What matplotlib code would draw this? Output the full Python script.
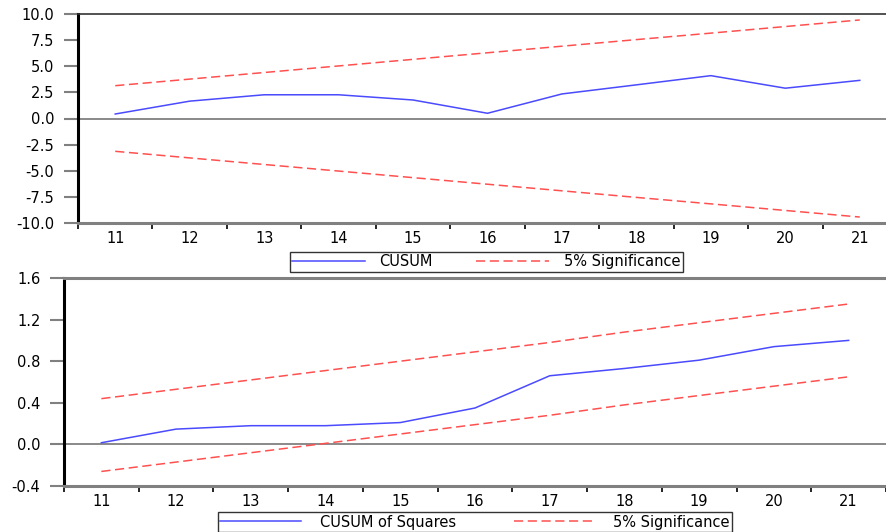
import matplotlib
matplotlib.use("Agg")
import matplotlib.pyplot as plt
from matplotlib.ticker import FixedLocator, NullFormatter, FixedFormatter

# ---- data ----
periods = ["11", "12", "13", "14", "15", "16", "17", "18", "19", "20", "21"]
cusum = [0.43, 1.66, 2.27, 2.27, 1.77, 0.50, 2.35, 3.22, 4.10, 2.90, 3.65]
cusum_upper = [3.14, 3.77, 4.40, 5.03, 5.66, 6.29, 6.92, 7.55, 8.17, 8.80, 9.43]
cusum_lower = [-3.14, -3.77, -4.40, -5.03, -5.66, -6.29, -6.92, -7.55, -8.17, -8.80, -9.43]
cusumsq = [0.016, 0.147, 0.18, 0.18, 0.21, 0.35, 0.66, 0.73, 0.81, 0.94, 1.00]
cusumsq_upper = [0.44, 0.53, 0.62, 0.71, 0.80, 0.89, 0.98, 1.08, 1.17, 1.26, 1.35]
cusumsq_lower = [-0.26, -0.17, -0.08, 0.01, 0.10, 0.19, 0.28, 0.38, 0.47, 0.56, 0.65]
top_yticks = [-10.0, -7.5, -5.0, -2.5, 0.0, 2.5, 5.0, 7.5, 10.0]
bot_yticks = [-0.4, 0.0, 0.4, 0.8, 1.2, 1.6]

BLUE = "#4a4aff"
RED = "#ff5050"
GREY = "#808080"
FONT = "DejaVu Sans"
FS = 10.5

plt.rcParams["font.family"] = [FONT]

W, H = 886, 532
fig = plt.figure(figsize=(W / 100, H / 100), dpi=100)
fig.patch.set_facecolor("white")

ax1 = fig.add_axes([78 / W, 1 - 223 / H, 819 / W, 209 / H])
ax2 = fig.add_axes([64 / W, 1 - 486 / H, 822 / W, 208 / H])


def style(ax, yticks, ylim, fmt, top_color, top_lw):
    x = list(range(len(periods)))
    ax.set_xlim(-0.5, len(periods) - 0.5)
    ax.set_ylim(*ylim)
    ax.axhline(0, color=GREY, lw=1.3, zorder=1)
    ax.xaxis.set_major_locator(FixedLocator([i - 0.5 for i in range(len(periods) + 1)]))
    ax.xaxis.set_major_formatter(NullFormatter())
    ax.xaxis.set_minor_locator(FixedLocator(x))
    ax.xaxis.set_minor_formatter(FixedFormatter(periods))
    ax.tick_params(axis="x", which="major", direction="out", length=4, width=1.2, color="black")
    ax.tick_params(axis="x", which="minor", length=0, pad=6, labelsize=FS)
    ax.set_yticks(yticks)
    ax.set_yticklabels([fmt.format(v) for v in yticks])
    ax.tick_params(axis="y", direction="out", length=10, width=1.5, color=GREY, pad=7, labelsize=FS)
    ax.spines["left"].set_color("black")
    ax.spines["left"].set_linewidth(2.2)
    ax.spines["bottom"].set_color(GREY)
    ax.spines["bottom"].set_linewidth(2.2)
    ax.spines["top"].set_color(top_color)
    ax.spines["top"].set_linewidth(top_lw)
    ax.spines["right"].set_visible(False)
    ax.set_facecolor("white")


x = list(range(len(periods)))

l1, = ax1.plot(x, cusum, color=BLUE, lw=1.1, label="CUSUM", zorder=3)
l2, = ax1.plot(x, cusum_upper, color=RED, lw=1.1, ls=(0, (6, 3)), label="5% Significance", zorder=2)
ax1.plot(x, cusum_lower, color=RED, lw=1.1, ls=(0, (6, 3)), zorder=2)
style(ax1, top_yticks, (-10, 10), "{:.1f}", "#333333", 1.2)

m1, = ax2.plot(x, cusumsq, color=BLUE, lw=1.1, label="CUSUM of Squares", zorder=3)
m2, = ax2.plot(x, cusumsq_upper, color=RED, lw=1.1, ls=(0, (6, 3)), label="5% Significance", zorder=2)
ax2.plot(x, cusumsq_lower, color=RED, lw=1.1, ls=(0, (6, 3)), zorder=2)
style(ax2, bot_yticks, (-0.4, 1.6), "{:.1f}", GREY, 2.2)

base_kw = dict(loc="center", ncol=2, frameon=True, fancybox=False, fontsize=FS,
               edgecolor="black", borderpad=0.15, borderaxespad=0)
lg1 = fig.legend([l1, l2], ["CUSUM", "5% Significance"],
                 bbox_to_anchor=(486 / W, 1 - 262 / H),
                 handlelength=5.0, handletextpad=1.0, columnspacing=3.0, **base_kw)
lg1.get_frame().set_linewidth(1.0)
lg2 = fig.legend([m1, m2], ["CUSUM of Squares", "5% Significance"],
                 bbox_to_anchor=(475 / W, 1 - 522 / H),
                 handlelength=5.5, handletextpad=1.3, columnspacing=4.0, **base_kw)
lg2.get_frame().set_linewidth(1.0)

fig.savefig("out.png", dpi=100, facecolor="white")
